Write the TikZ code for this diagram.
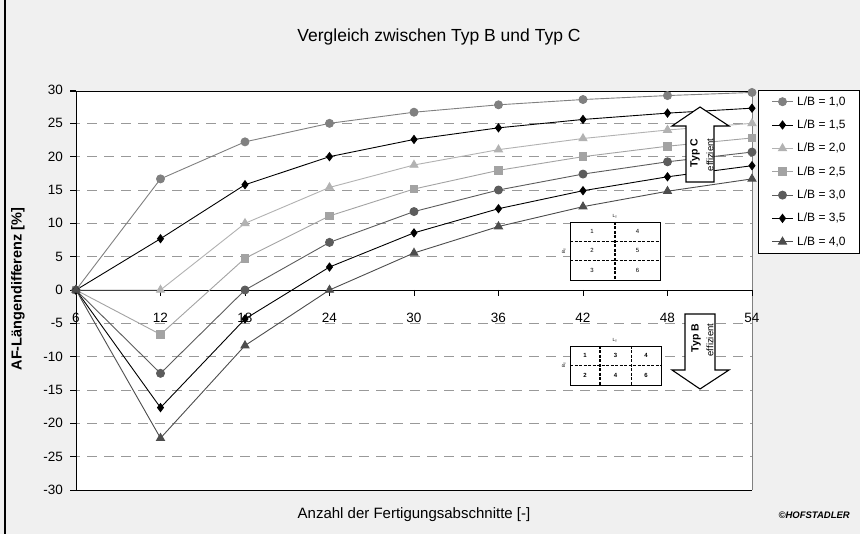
\documentclass[tikz,border=0pt]{standalone}
\usepackage{fontspec}
\setmainfont{Liberation Sans}
\usetikzlibrary{plotmarks}
\definecolor{bg}{HTML}{F0F0F0}
\definecolor{gridc}{HTML}{999999}
\definecolor{c10}{HTML}{808080}
\definecolor{c15}{HTML}{000000}
\definecolor{c20}{HTML}{B2B2B2}
\definecolor{c25}{HTML}{A3A3A3}
\definecolor{c30}{HTML}{5C5C5C}
\definecolor{c35}{HTML}{000000}
\definecolor{c40}{HTML}{4D4D4D}
\newcommand\fs[1]{\fontsize{#1}{#1}\selectfont}
\tikzset{
  gridline/.style={draw=gridc, line width=0.8pt, dash pattern=on 10pt off 7pt},
  serbase/.style={line width=0.9pt, mark size=4pt},
  s10/.style={serbase, draw=c10, mark=*, mark options={solid, fill=c10, draw=c10}},
  s15/.style={serbase, draw=c15, mark=diamond*, mark options={solid, fill=c15, draw=c15}},
  s20/.style={serbase, draw=c20, mark=triangle*, mark size=4.6pt, mark options={solid, fill=c20, draw=c20}},
  s25/.style={serbase, draw=c25, mark=square*, mark size=3.8pt, mark options={solid, fill=c25, draw=c25}},
  s30/.style={serbase, draw=c30, mark=*, mark options={solid, fill=c30, draw=c30}},
  s35/.style={serbase, draw=c35, mark=diamond*, mark options={solid, fill=c35, draw=c35}},
  s40/.style={serbase, draw=c40, mark=triangle*, mark size=4.6pt, mark options={solid, fill=c40, draw=c40}},
  ticklab/.style={font=\fs{13.5}, inner sep=0pt},
  legtext/.style={font=\fs{12}, anchor=west, inner sep=0pt},
  celltxt/.style={font=\fs{6}, inner sep=0pt},
  cellbold/.style={font=\fs{6}\bfseries, inner sep=0pt},
  thickdash/.style={line width=1.6pt, dash pattern=on 3pt off 1.5pt},
  thindash/.style={line width=0.8pt, dash pattern=on 3pt off 1.5pt},
  bigarrow/.style={draw=black, fill=white, line width=1.1pt, line join=miter},
}
\newcommand\series[2]{%
  \draw[#2] plot[samples at={6,12,...,54}, variable=\n]
    ({76+(\n-6)*14.083},{ifthenelse(\n==6,290,290-(\n-6*#1)/(3*\n+6*#1-6)*666.667)});}
\newcommand\legentry[3]{%
  \draw[#2, mark=none] (772,#1) -- (793,#1);
  \draw[#2] plot coordinates {(782.5,#1)};
  \node[legtext] (leg#2) at (797,#1) {#3};}
\begin{document}
\begin{tikzpicture}[x=1pt,y=-1pt]
\useasboundingbox (0,0) rectangle (860,534);
\fill[bg] (0,0) rectangle (860,534);
\draw[black, line width=2pt] (5,0) -- (5,534);
% plot area
\fill[white] (76,91) rectangle (752,490);
\foreach \v in {25,20,15,10,5,-5,-10,-15,-20,-25}
  \draw[gridline] (70,{290-\v*6.6667}) -- (752,{290-\v*6.6667});
\draw[c10, line width=0.8pt] (752,91) -- (752,490);
\draw[black, line width=0.8pt] (70,91) -- (752,91);
\draw[black, line width=0.8pt] (70,490) -- (752,490);
\draw[black, line width=0.8pt] (70,290) -- (752,290);
\draw[black, line width=0.8pt] (76,91) -- (76,490);
\foreach \v in {30,25,...,-30}{
  \draw[black, line width=0.8pt] (70,{290-\v*6.6667}) -- (76,{290-\v*6.6667});
  \node[ticklab, anchor=east] (yl\v) at (63,{290-\v*6.6667}) {\v};
}
\foreach \n in {6,12,...,54}{
  \draw[black, line width=0.8pt] ({76+(\n-6)*14.083},290) -- ({76+(\n-6)*14.083},296);
  \node[ticklab] (xl\n) at ({76+(\n-6)*14.083},318) {\n};
}
% series
\series{1}{s10}
\series{1.5}{s15}
\series{2}{s20}
\series{2.5}{s25}
\series{3}{s30}
\series{3.5}{s35}
\series{4}{s40}
% inset top (Typ C)
\draw[black, fill=white, line width=0.9pt] (570,222) rectangle (660,280);
\draw[thindash] (570,241) -- (660,241);
\draw[thindash] (570,260) -- (660,260);
\draw[thickdash] (615,222) -- (615,280);
\node[celltxt] (c1) at (592,231.5) {1};
\node[celltxt] (c2) at (592,250.5) {2};
\node[celltxt] (c3) at (592,270) {3};
\node[celltxt] (c4) at (637.5,231.5) {4};
\node[celltxt] (c5) at (637.5,250.5) {5};
\node[celltxt] (c6) at (637.5,270) {6};
\node[font=\fs{4.5}, inner sep=0pt] (lt1) at (615,216.5) {L\textsubscript{T}};
\node[font=\fs{4.5}, inner sep=0pt, rotate=90] (bt1) at (564,251) {B\textsubscript{T}};
% inset bottom (Typ B)
\draw[black, fill=white, line width=0.9pt] (570,346) rectangle (661,385);
\draw[thindash] (570,365.5) -- (661,365.5);
\draw[thindash] (631,346) -- (631,385);
\draw[thickdash] (600,346) -- (600,385);
\node[cellbold] (d1) at (585,355.5) {1};
\node[cellbold] (d3) at (615.5,355.5) {3};
\node[cellbold] (d4) at (646,355.5) {4};
\node[cellbold] (d2) at (585,375) {2};
\node[cellbold] (d5) at (615.5,375) {4};
\node[cellbold] (d6) at (646,375) {6};
\node[font=\fs{4.5}, inner sep=0pt] (lt2) at (615,340.5) {L\textsubscript{T}};
\node[font=\fs{4.5}, inner sep=0pt, rotate=90] (bt2) at (564,365) {B\textsubscript{T}};
% arrows
\draw[bigarrow] (700,107) -- (729,126) -- (714,126) -- (714,182) -- (686,182) -- (686,126) -- (672,126) -- cycle;
\node[font=\fs{10.5}\bfseries, rotate=90, inner sep=0pt] (typc) at (695,153) {Typ C};
\node[font=\fs{9.5}, rotate=90, inner sep=0pt] (effc) at (710,155) {effizient};
\draw[bigarrow] (685,314) -- (715,314) -- (715,370) -- (729,370) -- (700,389) -- (672,370) -- (685,370) -- cycle;
\node[font=\fs{10.5}\bfseries, rotate=90, inner sep=0pt] (typb) at (696,338) {Typ B};
\node[font=\fs{9.5}, rotate=90, inner sep=0pt] (effb) at (710,340) {effizient};
% legend
\draw[black, fill=white, line width=0.8pt] (758,90) rectangle (859,253);
\legentry{101.7}{s10}{L/B = 1,0}
\legentry{125.0}{s15}{L/B = 1,5}
\legentry{148.4}{s20}{L/B = 2,0}
\legentry{171.7}{s25}{L/B = 2,5}
\legentry{195.1}{s30}{L/B = 3,0}
\legentry{218.4}{s35}{L/B = 3,5}
\legentry{241.8}{s40}{L/B = 4,0}
% titles
\node[font=\fs{17.5}, inner sep=0pt] (title) at (439,37) {Vergleich zwischen Typ B und Typ C};
\node[font=\fs{15}, inner sep=0pt] (xtitle) at (414,515) {Anzahl der Fertigungsabschnitte [-]};
\node[font=\fs{14.5}\bfseries, inner sep=0pt, rotate=90] (ytitle) at (18,289) {AF-Längendifferenz [\%]};
\node[font=\fs{9.5}\bfseries\itshape, anchor=east, inner sep=0pt] (copy) at (850,515) {©HOFSTADLER};
\end{tikzpicture}
\end{document}
